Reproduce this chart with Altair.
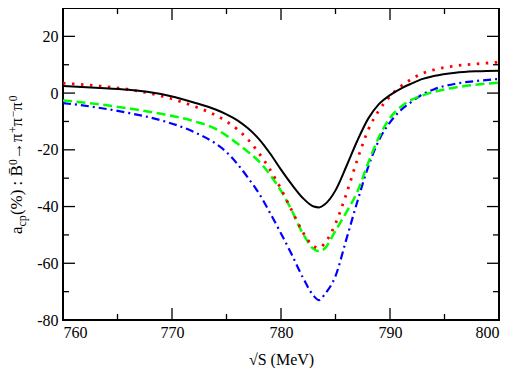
import altair as alt
import pandas as pd

# sqrt(S) in MeV
x_vals = [760, 763, 766, 769, 772, 774, 775, 776, 777, 778, 779, 780, 781, 782, 783,
          783.5, 784, 785, 786, 787, 788, 789, 790, 791, 792, 793, 794, 796, 798, 800]
black = [2.5, 1.9, 1.2, -0.3, -3.3, -5.8, -7.5, -9.6, -12.5, -16.3, -21.3, -27.0, -32.3, -37.0, -40.0,
         -40.3, -39.3, -34.3, -25.8, -16.8, -9.0, -3.8, -0.7, 1.6, 3.4, 5.0, 6.0, 7.2, 7.7, 7.9]
red = [3.5, 2.6, 1.3, -1.0, -4.6, -7.8, -10.0, -12.8, -16.5, -21.3, -27.0, -33.8, -41.5, -49.0, -54.0,
       -54.6, -53.0, -46.0, -35.5, -23.5, -13.0, -6.0, -1.2, 2.4, 5.0, 7.0, 8.2, 9.6, 10.3, 10.9]
green = [-2.6, -3.8, -5.4, -7.3, -9.9, -12.6, -15.0, -17.8, -20.8, -24.2, -28.8, -34.5, -41.5, -49.5, -55.0,
         -55.8, -54.8, -48.5, -42.0, -34.8, -24.6, -15.4, -8.8, -4.8, -2.3, -0.8, 0.4, 2.0, 3.0, 3.7]
blue = [-3.5, -5.0, -7.0, -9.6, -13.7, -17.8, -20.8, -25.0, -30.0, -35.5, -42.3, -49.5, -57.0, -65.0, -71.5,
        -73.0, -71.0, -64.5, -51.5, -38.3, -26.0, -16.5, -10.3, -6.0, -3.0, -0.4, 1.3, 3.3, 4.3, 5.0]

x_major = [760, 770, 780, 790, 800]
x_minor = [765, 775, 785, 795]
y_major = [-80, -60, -40, -20, 0, 20]
y_minor = [-70, -50, -30, -10, 10]

x_title = "\u221aS (MeV)"
# y title pieces: (text, font size, baseline shift)
y_title_parts = [("a", 17, 0), ("cp", 12, 4), ("(%) : B\u0304", 17, 0), ("0", 11.5, -5.5),
                 ("\u2192\u03c0", 17, 0), ("+", 11.5, -5.5), ("\u03c0", 17, 0), ("\u2212", 11.5, -5.5),
                 ("\u03c0", 17, 0), ("0", 11.5, -5.5)]
char_em = {"a": .444, "c": .444, "p": .5, "(": .333, "%": .833, ")": .333, " ": .25, ":": .278,
           "B": .667, "\u0304": 0, "0": .5, "\u2192": 1.0, "\u03c0": .55, "+": .564, "\u2212": .564}

W, H = 436, 312
MAJ, MIN = 12, 6
FONT = "Liberation Serif"

xs = alt.Scale(domain=[760, 800], nice=False, zero=False)
ys = alt.Scale(domain=[-80, 30], nice=False, zero=False)

curves = pd.DataFrame({"x": x_vals * 4,
                       "y": black + red + green + blue,
                       "s": ["black"] * len(x_vals) + ["red"] * len(x_vals) + ["green"] * len(x_vals) + ["blue"] * len(x_vals)})

base = alt.Chart(curves)

x_axis = alt.Axis(values=x_major, labelExpr="'' + datum.value", title=x_title,
                  ticks=False, tickSize=0, domain=False, grid=False,
                  labelPadding=4, titlePadding=11, labelFont=FONT, titleFont=FONT,
                  labelFontSize=16, titleFontSize=16, labelColor="black", titleColor="black",
                  titleFontWeight="normal")
y_axis = alt.Axis(values=y_major, labelExpr="'' + datum.value", title=None,
                  ticks=False, tickSize=0, domain=False, grid=False,
                  labelPadding=5, labelFont=FONT, labelFontSize=16, labelColor="black")

def curve(name, color, dash, width):
    kw = dict(color=color, strokeWidth=width, interpolate="monotone", clip=True)
    if dash:
        kw["strokeDash"] = dash
    return base.transform_filter(alt.datum.s == name).mark_line(**kw).encode(
        x=alt.X("x:Q", scale=xs, axis=x_axis),
        y=alt.Y("y:Q", scale=ys, axis=y_axis),
    )

layers = [
    curve("blue", "#0000ff", [8, 4, 2, 4], 2.2),
    curve("green", "#00ff00", [9, 4.5], 2.5),
    curve("red", "#ff0000", [2.5, 6.5], 2.8),
    curve("black", "#000000", None, 2),
]

def xticks(vals, length):
    d = alt.Chart(pd.DataFrame({"v": vals}))
    bot = d.mark_rule(color="black", strokeWidth=1.3).encode(
        x=alt.X("v:Q", scale=xs), y=alt.value(H), y2=alt.value(H - length))
    top = d.mark_rule(color="black", strokeWidth=1.3).encode(
        x=alt.X("v:Q", scale=xs), y=alt.value(0), y2=alt.value(length))
    return [bot, top]

def yticks(vals, length):
    d = alt.Chart(pd.DataFrame({"v": vals}))
    left = d.mark_rule(color="black", strokeWidth=1.3).encode(
        y=alt.Y("v:Q", scale=ys), x=alt.value(0), x2=alt.value(length))
    right = d.mark_rule(color="black", strokeWidth=1.3).encode(
        y=alt.Y("v:Q", scale=ys), x=alt.value(W - length), x2=alt.value(W))
    return [left, right]

layers += xticks(x_major, MAJ) + xticks(x_minor, MIN) + yticks(y_major, MAJ) + yticks(y_minor, MIN)

# rotated multi-part y title
offset = 0.0
for txt, size, shift in y_title_parts:
    t = alt.Chart(pd.DataFrame({"k": [0]})).mark_text(
        angle=270, align="left", baseline="alphabetic", font=FONT, fontSize=size,
        dx=offset, dy=shift, color="black").encode(
        x=alt.value(-41), y=alt.value(226), text=alt.value(txt))
    layers.append(t)
    offset += sum(char_em.get(ch, .5) for ch in txt) * size

chart = alt.layer(*layers).properties(
    width=W, height=H,
    autosize=alt.AutoSizeParams(type="none"),
    padding={"left": 55, "top": 0, "right": 14, "bottom": 48},
).configure_view(stroke="black", strokeWidth=2)

chart.save("out.html", embed_options={"renderer": "svg", "actions": False})
